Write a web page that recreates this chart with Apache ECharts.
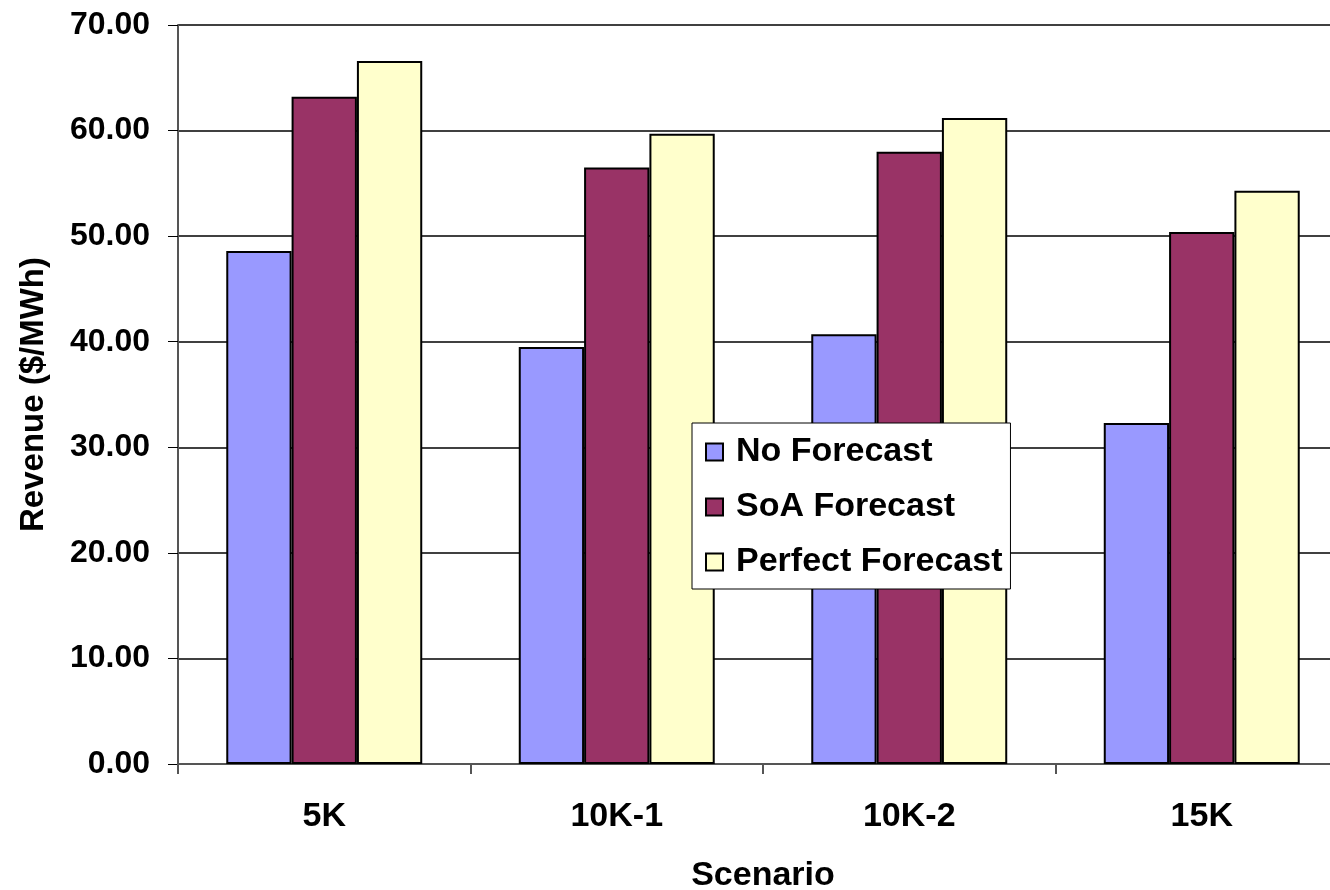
<!DOCTYPE html>
<html><head><meta charset="utf-8">
<script src="https://cdn.jsdelivr.net/npm/echarts@6/dist/echarts.min.js"></script>
<style>html,body{margin:0;padding:0;background:#fff;overflow:hidden;width:1330px;height:890px}#c{width:1350px;height:890px}</style>
</head><body><div id="c"></div>
<script>
const categories = ['5K', '10K-1', '10K-2', '15K'];
const noForecast = [48.6, 39.5, 40.7, 32.3];
const soaForecast = [63.2, 56.5, 58.0, 50.4];
const perfectForecast = [66.6, 59.7, 61.2, 54.3];
const seriesNames = ['No Forecast', 'SoA Forecast', 'Perfect Forecast'];

const font = '"Liberation Sans", Arial, sans-serif';
const chart = echarts.init(document.getElementById('c'));
const mk = (name, data, color) => ({
  name, type: 'bar', data,
  barGap: '0%', barCategoryGap: '33%',
  itemStyle: { color, borderColor: '#000', borderWidth: 2 }
});
chart.setOption({
  animation: false,
  grid: { left: 178, right: 2, top: 25, bottom: 126, containLabel: false, outerBoundsMode: 'none' },
  legend: {
    orient: 'vertical', left: 692, top: 423,
    data: seriesNames,
    backgroundColor: '#fff', borderColor: '#000', borderWidth: 1,
    padding: [12, 8, 10, 13], itemGap: 21, itemWidth: 17, itemHeight: 17,
    icon: 'rect',
    itemStyle: { borderColor: '#000', borderWidth: 2 },
    textStyle: { fontFamily: font, fontWeight: 'bold', fontSize: 34, color: '#000', padding: [0, 0, 0, 8] }
  },
  xAxis: {
    type: 'category', data: categories,
    name: 'Scenario', nameLocation: 'middle', nameGap: 95,
    nameTextStyle: { fontFamily: font, fontWeight: 'bold', fontSize: 34, color: '#000' },
    axisLine: { lineStyle: { color: '#555', width: 2 } },
    axisTick: { show: true, length: 10, lineStyle: { color: '#555', width: 2 } },
    axisLabel: { fontFamily: font, fontWeight: 'bold', fontSize: 34, color: '#000', margin: 36 }
  },
  yAxis: {
    type: 'value', min: 0, max: 70, interval: 10,
    name: 'Revenue ($/MWh)', nameLocation: 'middle', nameGap: 128, nameRotate: 90,
    nameTextStyle: { fontFamily: font, fontWeight: 'bold', fontSize: 33, color: '#000' },
    axisLine: { show: true, lineStyle: { color: '#555', width: 2 } },
    axisTick: { show: true, length: 10, lineStyle: { color: '#000', width: 1 } },
    axisLabel: { fontFamily: font, fontWeight: 'bold', fontSize: 32, color: '#000', margin: 28,
      formatter: v => v.toFixed(2) },
    splitLine: { lineStyle: { color: '#000', width: 1.5 } }
  },
  series: [
    mk(seriesNames[0], noForecast, '#9999FF'),
    mk(seriesNames[1], soaForecast, '#993366'),
    mk(seriesNames[2], perfectForecast, '#FFFFCC')
  ]
});
</script></body></html>
